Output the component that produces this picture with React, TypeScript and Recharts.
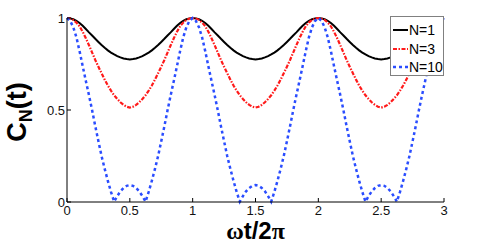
import { LineChart, Line, XAxis, YAxis, Legend, Label } from 'recharts'

// ωt/2π sample points
const t = [
  0, 0.025, 0.05, 0.075, 0.1, 0.125, 0.15, 0.175, 0.2, 0.225,
  0.25, 0.275, 0.3, 0.325, 0.35, 0.375, 0.4, 0.425, 0.45, 0.475,
  0.5, 0.525, 0.55, 0.575, 0.6, 0.625, 0.65, 0.675, 0.7, 0.725,
  0.75, 0.775, 0.8, 0.825, 0.85, 0.875, 0.9, 0.925, 0.95, 0.975,
  1, 1.025, 1.05, 1.075, 1.1, 1.125, 1.15, 1.175, 1.2, 1.225,
  1.25, 1.275, 1.3, 1.325, 1.35, 1.375, 1.4, 1.425, 1.45, 1.475,
  1.5, 1.525, 1.55, 1.575, 1.6, 1.625, 1.65, 1.675, 1.7, 1.725,
  1.75, 1.775, 1.8, 1.825, 1.85, 1.875, 1.9, 1.925, 1.95, 1.975,
  2, 2.025, 2.05, 2.075, 2.1, 2.125, 2.15, 2.175, 2.2, 2.225,
  2.25, 2.275, 2.3, 2.325, 2.35, 2.375, 2.4, 2.425, 2.45, 2.475,
  2.5, 2.525, 2.55, 2.575, 2.6, 2.625, 2.65, 2.675, 2.7, 2.725,
  2.75, 2.775, 2.8, 2.825, 2.85, 2.875, 2.9, 2.925, 2.95, 2.975,
  3,
]

const n1 = [
  1.000, 0.998, 0.993, 0.985, 0.973, 0.958, 0.940, 0.922, 0.905, 0.887,
  0.870, 0.853, 0.838, 0.824, 0.812, 0.802, 0.793, 0.786, 0.780, 0.777,
  0.775, 0.777, 0.780, 0.786, 0.793, 0.802, 0.812, 0.824, 0.838, 0.853,
  0.870, 0.887, 0.905, 0.922, 0.940, 0.958, 0.973, 0.985, 0.993, 0.998,
  1.000, 0.998, 0.993, 0.985, 0.973, 0.958, 0.940, 0.922, 0.905, 0.887,
  0.870, 0.853, 0.838, 0.824, 0.812, 0.802, 0.793, 0.786, 0.780, 0.777,
  0.775, 0.777, 0.780, 0.786, 0.793, 0.802, 0.812, 0.824, 0.838, 0.853,
  0.870, 0.887, 0.905, 0.922, 0.940, 0.958, 0.973, 0.985, 0.993, 0.998,
  1.000, 0.998, 0.993, 0.985, 0.973, 0.958, 0.940, 0.922, 0.905, 0.887,
  0.870, 0.853, 0.838, 0.824, 0.812, 0.802, 0.793, 0.786, 0.780, 0.777,
  0.775, 0.777, 0.780, 0.786, 0.793, 0.802, 0.812, 0.824, 0.838, 0.853,
  0.870, 0.887, 0.905, 0.922, 0.940, 0.958, 0.973, 0.985, 0.993, 0.998,
  1.000,
]

const n3 = [
  1.000, 0.997, 0.990, 0.975, 0.955, 0.925, 0.890, 0.852, 0.812, 0.772,
  0.735, 0.700, 0.665, 0.633, 0.605, 0.580, 0.560, 0.542, 0.528, 0.518,
  0.513, 0.518, 0.528, 0.542, 0.560, 0.580, 0.605, 0.633, 0.665, 0.700,
  0.735, 0.772, 0.812, 0.852, 0.890, 0.925, 0.955, 0.975, 0.990, 0.997,
  1.000, 0.997, 0.990, 0.975, 0.955, 0.925, 0.890, 0.852, 0.812, 0.772,
  0.735, 0.700, 0.665, 0.633, 0.605, 0.580, 0.560, 0.542, 0.528, 0.518,
  0.513, 0.518, 0.528, 0.542, 0.560, 0.580, 0.605, 0.633, 0.665, 0.700,
  0.735, 0.772, 0.812, 0.852, 0.890, 0.925, 0.955, 0.975, 0.990, 0.997,
  1.000, 0.997, 0.990, 0.975, 0.955, 0.925, 0.890, 0.852, 0.812, 0.772,
  0.735, 0.700, 0.665, 0.633, 0.605, 0.580, 0.560, 0.542, 0.528, 0.518,
  0.513, 0.518, 0.528, 0.542, 0.560, 0.580, 0.605, 0.633, 0.665, 0.700,
  0.735, 0.772, 0.812, 0.852, 0.890, 0.925, 0.955, 0.975, 0.990, 0.997,
  1.000,
]

const n10 = [
  1.000, 0.985, 0.950, 0.895, 0.820, 0.738, 0.658, 0.580, 0.498, 0.412,
  0.330, 0.250, 0.180, 0.115, 0.055, 0.002, 0.032, 0.058, 0.076, 0.088,
  0.092, 0.088, 0.076, 0.058, 0.032, 0.002, 0.055, 0.115, 0.180, 0.250,
  0.330, 0.412, 0.498, 0.580, 0.658, 0.738, 0.820, 0.895, 0.950, 0.985,
  1.000, 0.985, 0.950, 0.895, 0.820, 0.738, 0.658, 0.580, 0.498, 0.412,
  0.330, 0.250, 0.180, 0.115, 0.055, 0.002, 0.032, 0.058, 0.076, 0.088,
  0.092, 0.088, 0.076, 0.058, 0.032, 0.002, 0.055, 0.115, 0.180, 0.250,
  0.330, 0.412, 0.498, 0.580, 0.658, 0.738, 0.820, 0.895, 0.950, 0.985,
  1.000, 0.985, 0.950, 0.895, 0.820, 0.738, 0.658, 0.580, 0.498, 0.412,
  0.330, 0.250, 0.180, 0.115, 0.055, 0.002, 0.032, 0.058, 0.076, 0.088,
  0.092, 0.088, 0.076, 0.058, 0.032, 0.002, 0.055, 0.115, 0.180, 0.250,
  0.330, 0.412, 0.498, 0.580, 0.658, 0.738, 0.820, 0.895, 0.950, 0.985,
  1.000,
]

const xTicks = [0, 0.5, 1, 1.5, 2, 2.5, 3]
const yTicks = [0, 0.5, 1]

const series = [
  { key: 'n1', name: 'N=1', color: '#000000', dash: undefined, width: 2 },
  { key: 'n3', name: 'N=3', color: '#ff1a1a', dash: '4 1.5 1.5 1.5', width: 2.2 },
  { key: 'n10', name: 'N=10', color: '#2a4dff', dash: '3 3', width: 2.5 },
]

const data = t.map((x, i) => ({ t: x, n1: n1[i], n3: n3[i], n10: n10[i] }))

const FONT = '"Liberation Sans", Arial, Helvetica, sans-serif'
const tickStyle = { fill: '#111', fontSize: 13, fontFamily: FONT }

function YTitle(props: any) {
  const vb = props.viewBox
  const cx = vb.x + 26
  const cy = vb.y + vb.height / 2 + 2
  return (
    <text x={cx} y={cy} transform={`rotate(-90, ${cx}, ${cy})`} textAnchor="middle"
      fontSize={27} fontWeight="bold" fontFamily={FONT} fill="#000">
      C<tspan fontSize={18} dy={6}>N</tspan><tspan dy={-6}>(t)</tspan>
    </text>
  )
}

function XTitle(props: any) {
  const vb = props.viewBox
  return (
    <text x={vb.x + vb.width / 2} y={vb.y + 37} textAnchor="middle"
      fontSize={24} fontWeight="bold" fontFamily={FONT} fill="#000">
      <tspan fontFamily='"Liberation Serif", serif'>ω</tspan>t/2<tspan fontFamily='"Liberation Serif", serif'>π</tspan>
    </text>
  )
}

function LegendBox() {
  return (
    <div style={{
      width: 54, height: 60, boxSizing: 'border-box', border: '1px solid #808080',
      background: '#fff', position: 'relative', fontFamily: FONT, fontSize: 14, color: '#000',
    }}>
      {series.map((s, i) => (
        <div key={s.key} style={{ position: 'absolute', left: 1, top: 4 + i * 18.5, height: 18, display: 'flex', alignItems: 'center' }}>
          <svg width={16} height={18}>
            <line x1={1} x2={16} y1={9} y2={9} stroke={s.color} strokeWidth={s.width} strokeDasharray={s.dash} />
          </svg>
          <span style={{ marginLeft: 1, lineHeight: '18px' }}>{s.name}</span>
        </div>
      ))}
    </div>
  )
}

export default function App() {
  return (
    <div style={{ position: 'absolute', left: 0, top: 0, width: 491, height: 247, background: '#fff' }}>
      <LineChart width={491} height={247} data={data} margin={{ top: 18, right: 47, bottom: 0, left: 0 }}>
        <XAxis dataKey="t" type="number" domain={[0, 3]} ticks={xTicks} height={45}
          tick={tickStyle} tickSize={-4} tickMargin={8} stroke="#000" interval={0}>
          <Label content={XTitle} />
        </XAxis>
        <XAxis xAxisId="top" orientation="top" dataKey="t" type="number" domain={[0, 3]} ticks={xTicks}
          height={0} tick={false} tickSize={-4} stroke="#000" />
        <YAxis type="number" domain={[0, 1]} ticks={yTicks} width={67}
          tick={tickStyle} tickSize={-4} tickMargin={6} stroke="#000" interval={0}>
          <Label content={YTitle} />
        </YAxis>
        <YAxis yAxisId="right" orientation="right" type="number" domain={[0, 1]} ticks={yTicks}
          width={0} tick={false} tickSize={-4} stroke="#000" />
        {series.map(s => (
          <Line key={s.key} dataKey={s.key} name={s.name} type="linear" dot={false}
            stroke={s.color} strokeWidth={s.width} strokeDasharray={s.dash} isAnimationActive={false} />
        ))}
        <Legend content={LegendBox} layout="vertical" align="center" verticalAlign="middle"
          wrapperStyle={{ left: 390, top: 16, width: 54, height: 60 }} />
      </LineChart>
    </div>
  )
}
